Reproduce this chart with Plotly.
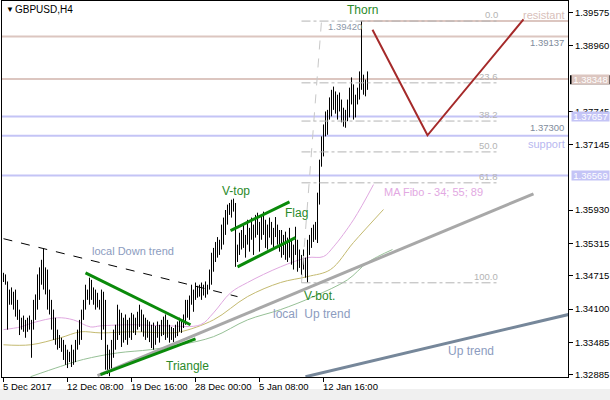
import plotly.graph_objects as go

# ---------------- data ----------------
HIGH = [
1.3477,1.3474,1.3461,1.3446,1.3450,1.3442,1.3446,1.3427,1.3409,1.3394,
1.3398,1.3390,1.3394,1.3398,1.3390,1.3427,1.3437,1.3474,1.3487,1.3501,
1.3522,1.3487,1.3483,1.3446,1.3427,1.3409,1.3394,1.3372,1.3362,1.3357,
1.3353,1.3344,1.3335,1.3331,1.3344,1.3335,1.3353,1.3372,1.3390,1.3409,
1.3427,1.3455,1.3446,1.3468,1.3464,1.3450,1.3446,1.3440,1.3427,1.3446,
1.3442,1.3427,1.3344,1.3335,1.3353,1.3372,1.3381,1.3418,1.3409,1.3403,
1.3394,1.3400,1.3390,1.3394,1.3403,1.3400,1.3394,1.3405,1.3418,1.3409,
1.3400,1.3394,1.3390,1.3387,1.3381,1.3385,1.3379,1.3387,1.3381,1.3390,
1.3396,1.3400,1.3390,1.3381,1.3377,1.3375,1.3381,1.3387,1.3394,1.3390,
1.3400,1.3427,1.3427,1.3435,1.3455,1.3446,1.3459,1.3453,1.3455,1.3459,
1.3455,1.3461,1.3455,1.3483,1.3514,1.3523,1.3534,1.3543,1.3538,1.3566,
1.3579,1.3593,1.3603,1.3606,1.3612,1.3614,1.3606,1.3529,1.3551,1.3556,
1.3566,1.3547,1.3575,1.3560,1.3579,1.3566,1.3584,1.3588,1.3571,1.3584,
1.3590,1.3575,1.3566,1.3579,1.3571,1.3560,1.3580,1.3566,1.3556,1.3556,
1.3547,1.3553,1.3542,1.3560,1.3538,1.3529,1.3562,1.3538,1.3520,1.3510,
1.3520,1.3505,1.3538,1.3547,1.3560,1.3566,1.3571,1.3625,1.3686,1.3729,
1.3751,1.3775,1.3778,1.3801,1.3815,1.3821,1.3812,1.3806,1.3810,1.3797,
1.3782,1.3778,1.3797,1.3819,1.3838,1.3825,1.3806,1.3819,1.3849,1.3942,
1.3843,1.3834,1.3849]
LOW = [
1.3460,1.3455,1.3372,1.3418,1.3418,1.3409,1.3396,1.3390,1.3362,1.3372,
1.3368,1.3357,1.3368,1.3372,1.3320,1.3372,1.3390,1.3409,1.3427,1.3455,
1.3446,1.3437,1.3409,1.3400,1.3372,1.3353,1.3344,1.3335,1.3338,1.3331,
1.3316,1.3307,1.3301,1.3312,1.3303,1.3307,1.3312,1.3335,1.3344,1.3353,
1.3390,1.3409,1.3427,1.3418,1.3427,1.3418,1.3409,1.3413,1.3409,1.3353,
1.3372,1.3298,1.3290,1.3286,1.3294,1.3320,1.3335,1.3353,1.3362,1.3340,
1.3348,1.3353,1.3344,1.3357,1.3353,1.3366,1.3362,1.3372,1.3377,1.3368,
1.3359,1.3353,1.3357,1.3349,1.3338,1.3335,1.3344,1.3357,1.3348,1.3360,
1.3362,1.3353,1.3357,1.3348,1.3353,1.3349,1.3357,1.3360,1.3368,1.3366,
1.3375,1.3381,1.3394,1.3390,1.3418,1.3405,1.3427,1.3431,1.3433,1.3427,
1.3435,1.3431,1.3437,1.3446,1.3455,1.3479,1.3497,1.3505,1.3510,1.3520,
1.3529,1.3547,1.3566,1.3584,1.3579,1.3590,1.3488,1.3497,1.3510,1.3520,
1.3523,1.3505,1.3529,1.3516,1.3538,1.3510,1.3542,1.3547,1.3516,1.3538,
1.3547,1.3523,1.3520,1.3542,1.3529,1.3523,1.3543,1.3529,1.3516,1.3505,
1.3510,1.3501,1.3497,1.3505,1.3492,1.3483,1.3510,1.3479,1.3486,1.3473,
1.3483,1.3468,1.3459,1.3510,1.3523,1.3534,1.3538,1.3532,1.3603,1.3673,
1.3692,1.3729,1.3732,1.3760,1.3766,1.3778,1.3771,1.3760,1.3775,1.3755,
1.3747,1.3745,1.3757,1.3764,1.3788,1.3760,1.3764,1.3788,1.3797,1.3815,
1.3806,1.3803,1.3815]

MA34_X = [0, 8.5, 15, 27, 35, 43.5, 48.5, 65, 82, 98.5, 105, 113.5, 122, 138.5, 152, 160, 165, 175, 185]
MA34_Y = [1.3372, 1.3377, 1.3385, 1.3394, 1.3390, 1.3377, 1.3379, 1.3381, 1.3379, 1.3381, 1.3403,
          1.3440, 1.3459, 1.3488, 1.3505, 1.3507, 1.3525, 1.3575, 1.3640]
MA55_X = [0, 13.5, 28.5, 38.5, 48.5, 65, 82, 88.5, 105, 122, 138.5, 152, 163.5, 175, 190]
MA55_Y = [1.3344, 1.3344, 1.3357, 1.3368, 1.3366, 1.3368, 1.3366, 1.3368, 1.3390, 1.3433, 1.3459,
          1.3470, 1.3483, 1.3533, 1.3594]
MA89_X = [13.5, 28.5, 40, 57, 73.5, 88.5, 105, 122, 138.5, 155, 172, 182, 194.5]
MA89_Y = [1.3285, 1.3304, 1.3317, 1.3329, 1.3335, 1.3344, 1.3359, 1.3390, 1.3409, 1.3433, 1.3464,
          1.3496, 1.3520]

X_TICK_POS = [0, 32, 64, 96, 128, 160]
X_TICK_LABELS = ["5 Dec 2017", "12 Dec 08:00", "19 Dec 16:00", "28 Dec 00:00", "5 Jan 08:00", "12 Jan 16:00"]
Y_TICKS = [1.39575, 1.38960, 1.37745, 1.37145, 1.35930, 1.35315, 1.34715, 1.34100, 1.33485, 1.32885]

RES_LEVELS = [1.39137, 1.38348]
SUP_LEVELS = [1.37657, 1.37300, 1.36569]
RESISTANT_PRICE = 1.3942
RESISTANT_START = 178.5

TAG_PRICES = [1.38348, 1.37657, 1.36569]
TAG_KIND = ["res", "sup", "sup"]
BID_PRICE = 1.3834

FIBO_X = [149, 159]
FIBO_Y = [1.34585, 1.3942]
FIBO_END = 248
FIBO_LABELS = ["0.0", "23.6", "38.2", "50.0", "61.8", "100.0"]
FIBO_PRICES = [1.3942, 1.38279, 1.37573, 1.37003, 1.36432, 1.34585]

DOWN_X = [0, 117]; DOWN_Y = [1.3540, 1.3433]
TRI_UP_X = [41, 93.5]; TRI_UP_Y = [1.3477, 1.3381]
TRI_LO_X = [48.5, 96]; TRI_LO_Y = [1.3289, 1.3355]
LUP_X = [47, 265]; LUP_Y = [1.3287, 1.3623]
UP_X = [151, 282.5]; UP_Y = [1.3285, 1.3400]
FLAG_UP_X = [113.5, 143]; FLAG_UP_Y = [1.3555, 1.3608]
FLAG_LO_X = [117, 146]; FLAG_LO_Y = [1.3488, 1.3542]
V_X = [184.5, 212, 260]; V_Y = [1.3926, 1.3731, 1.3945]

# ---------------- figure ----------------
RES_COL = "#dcc6c0"
SUP_COL = "#c4c4f6"
GREEN = "#0a8a0a"
LBL_GREEN = "#2a8a2a"
BLUEGRAY = "#8c9cc0"

fig = go.Figure()

def line(x, y, color, width=1, dash=None, shape="linear"):
    fig.add_trace(go.Scatter(x=x, y=y, mode="lines", hoverinfo="skip",
                             line=dict(color=color, width=width, dash=dash, shape=shape)))

line(MA89_X, MA89_Y, "#96c096", 1, shape="spline")
line(MA55_X, MA55_Y, "#c4ba70", 1, shape="spline")
line(MA34_X, MA34_Y, "#e0a8e0", 1, shape="spline")

bx, by = [], []
for i, (h, l) in enumerate(zip(HIGH, LOW)):
    bx += [i, i, None]
    by += [h, l, None]
fig.add_trace(go.Scatter(x=bx, y=by, mode="lines", hoverinfo="skip",
                         line=dict(color="black", width=1)))

line(FIBO_X, FIBO_Y, "#c8c8c8", 1, dash="dash")
for p in FIBO_PRICES:
    line([FIBO_X[0], FIBO_END], [p, p], "#b4b4b4", 1, dash="dashdot")

line(DOWN_X, DOWN_Y, "black", 1, dash="dash")
line(LUP_X, LUP_Y, "#a8a8a8", 3)
line(UP_X, UP_Y, "#76879a", 3)
line(TRI_UP_X, TRI_UP_Y, GREEN, 3)
line(TRI_LO_X, TRI_LO_Y, GREEN, 3)
line(FLAG_UP_X, FLAG_UP_Y, GREEN, 3)
line(FLAG_LO_X, FLAG_LO_Y, GREEN, 3)
line(V_X, V_Y, "#a52a2a", 2)

shapes = []
for p in RES_LEVELS:
    shapes.append(dict(type="line", xref="paper", x0=0, x1=1, yref="y", y0=p, y1=p,
                       line=dict(color=RES_COL, width=2), layer="below"))
for p in SUP_LEVELS:
    shapes.append(dict(type="line", xref="paper", x0=0, x1=1, yref="y", y0=p, y1=p,
                       line=dict(color=SUP_COL, width=2), layer="below"))
shapes.append(dict(type="line", xref="x", x0=RESISTANT_START, x1=282.25, yref="y",
                   y0=RESISTANT_PRICE, y1=RESISTANT_PRICE, line=dict(color=RES_COL, width=2), layer="below"))

W, H = 610, 400
ML, MR, MT, MB = 2, 42, 1, 23
PW, PH = W - ML - MR, H - MT - MB

def px(xp):
    return (xp - ML) / PW

def py(yp):
    return 1 - (yp - MT) / PH

shapes.append(dict(type="rect", xref="paper", x0=px(570), x1=px(610), yref="y",
                   y0=BID_PRICE - 0.00085, y1=BID_PRICE + 0.0008, fillcolor="black", line=dict(width=0)))
shapes.append(dict(type="rect", xref="paper", x0=px(0), x1=px(610), yref="paper",
                   y0=py(400), y1=py(389), fillcolor="#f0f0f0", line=dict(width=0)))

ann = []
FONT = "Liberation Sans, Arial, sans-serif"

def text(t, x, y, color, size=12, xanchor="center", yanchor="middle", xref="x", yref="y", **kw):
    ann.append(dict(text=t, x=x, y=y, xref=xref, yref=yref, showarrow=False,
                    xanchor=xanchor, yanchor=yanchor, font=dict(family=FONT, size=size, color=color), **kw))

for pos, lab in zip(X_TICK_POS, X_TICK_LABELS):
    text(lab, pos, 0, "black", 9.5, xanchor="left", yanchor="top", yref="paper", xshift=-3, yshift=-2)

for p, k in zip(TAG_PRICES, TAG_KIND):
    ann.append(dict(text=f"{p:.5f}", x=px(571), y=p, xref="paper", yref="y", showarrow=False,
                    xanchor="left", yanchor="middle", width=37, height=9, borderpad=0,
                    bgcolor=RES_COL if k == "res" else SUP_COL,
                    font=dict(family=FONT, size=9.5, color="white")))

text("Thorn", 179.5, 1.3963, LBL_GREEN, 12)
text("V-top", 116, 1.3628, LBL_GREEN, 12)
text("Flag", 146.5, 1.3588, LBL_GREEN, 12)
text("V-bot.", 158, 1.3434, LBL_GREEN, 12)
text("Triangle", 92, 1.3305, LBL_GREEN, 12)
text("local Down trend", 64.5, 1.3517, BLUEGRAY, 11)
text("local  Up trend", 154, 1.3401, BLUEGRAY, 12)
text("Up trend", 233.5, 1.3333, BLUEGRAY, 12)
text("MA Fibo - 34; 55; 89", 215, 1.3626, "#e2a8e2", 11)
text("resistant", 1, 1.3953, "#d8c0ba", 11, xanchor="right", xref="paper", xshift=-1)
text("support", 1, 1.3715, "#b8b8f0", 11, xanchor="right", xref="paper", xshift=-1)
text("1.39137", 1, 1.3902, "#7f8c9c", 9.5, xanchor="right", xref="paper", xshift=-2)
text("1.37300", 1, 1.37463, "#7f8c9c", 9.5, xanchor="right", xref="paper", xshift=-2)
text("1.39420", 161, 1.39329, "#8c98a8", 9.5, xanchor="left")
for lab, p in zip(FIBO_LABELS, FIBO_PRICES):
    text(lab, FIBO_END, p, "#b4b4b4", 9.5, xanchor="right", yanchor="bottom", yshift=-1)

text("\u25bc", px(4), py(10), "black", 8, xanchor="left", xref="paper", yref="paper")
text("GBPUSD,H4", px(13), py(10), "black", 10, xanchor="left", xref="paper", yref="paper")

fig.update_layout(
    width=W, height=H, margin=dict(l=ML, r=MR, t=MT, b=MB),
    paper_bgcolor="white", plot_bgcolor="white", showlegend=False,
    shapes=shapes, annotations=ann,
    xaxis=dict(range=[-0.75, 282.25], showgrid=False, zeroline=False, tickvals=X_TICK_POS,
               showticklabels=False, ticks="outside", ticklen=4, tickcolor="black",
               showline=True, linecolor="black", linewidth=1, mirror=True),
    yaxis=dict(range=[1.32845, 1.39791], side="right", showgrid=False, zeroline=False,
               tickvals=Y_TICKS, ticktext=[f"{v:.5f}" for v in Y_TICKS], ticks="outside",
               ticklen=4, tickcolor="black", tickfont=dict(family=FONT, size=9.5, color="black"),
               showline=True, linecolor="black", linewidth=1, mirror=True),
)
fig.write_html("out.html", config={"displayModeBar": False},
               post_script="document.body.style.margin='0';document.body.style.overflow='hidden';")
